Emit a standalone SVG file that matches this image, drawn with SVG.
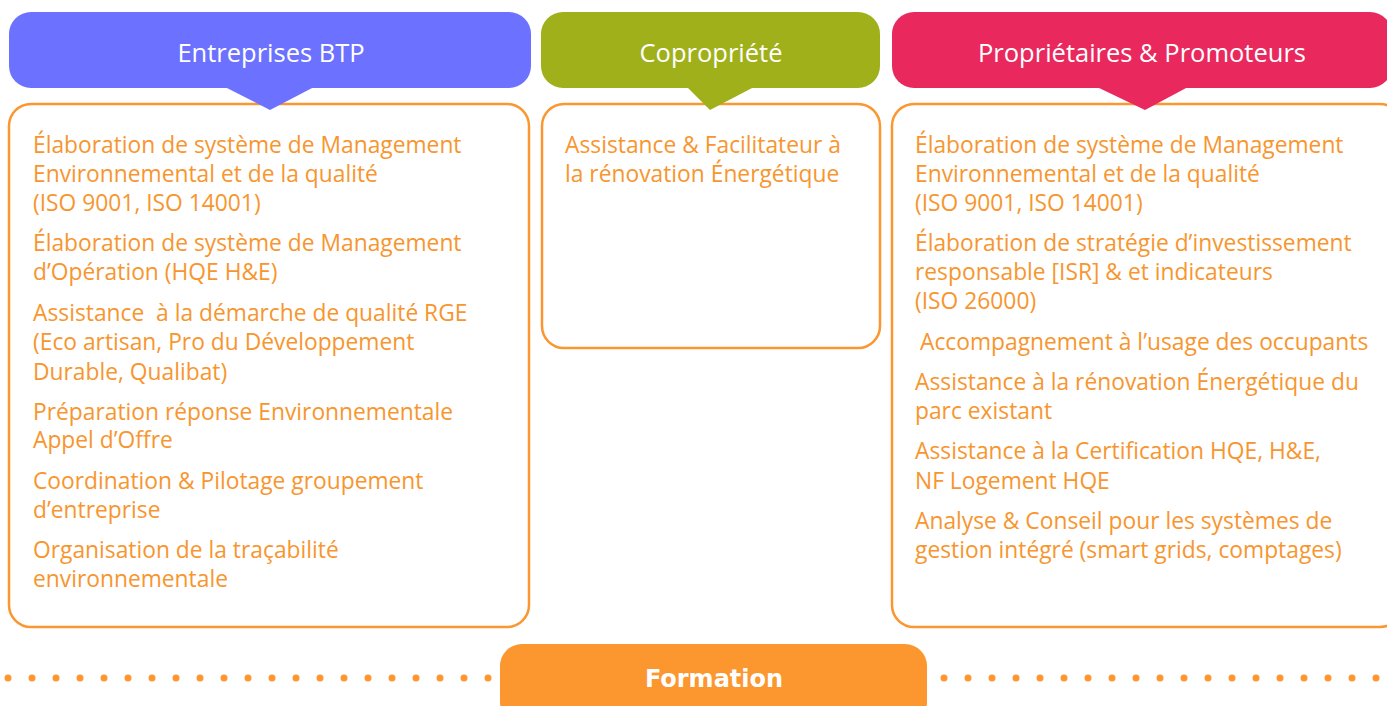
<svg xmlns="http://www.w3.org/2000/svg" width="1387" height="706" viewBox="0 0 1387 706">
<defs>
<style>
.hdr-txt{font-family:"Open Sans","DejaVu Sans",sans-serif;font-size:25.5px;fill:#ffffff;text-anchor:middle}
.body{fill:#ffffff;stroke:#FB9631;stroke-width:2.5}
.t{font-family:"Open Sans","DejaVu Sans",sans-serif;font-size:22.8px;fill:#F7962F}
.dot{fill:#FB9631}
.form-txt{font-family:"DejaVu Sans","Open Sans",sans-serif;font-size:24px;font-weight:bold;fill:#ffffff;text-anchor:middle}
</style>
</defs>
<rect width="1387" height="706" fill="#ffffff"/>

<g id="col-btp">
  <rect class="body" x="9" y="104" width="520" height="523" rx="22"/>
  <g id="hdr-btp">
    <rect x="9" y="12" width="522" height="76" rx="22" fill="#6C72FF"/>
    <polygon points="225,87 314,87 270,110" fill="#6C72FF"/>
    <text class="hdr-txt" x="271" y="62">Entreprises BTP</text>
  </g>
  <text class="t" x="33" y="153">Élaboration de système de Management</text>
  <text class="t" x="33" y="182">Environnemental et de la qualité</text>
  <text class="t" x="33" y="211">(ISO 9001, ISO 14001)</text>
  <text class="t" x="33" y="251">Élaboration de système de Management</text>
  <text class="t" x="33" y="280">d’Opération (HQE H&amp;E)</text>
  <text class="t" x="33" y="321" xml:space="preserve">Assistance  à la démarche de qualité RGE</text>
  <text class="t" x="33" y="350">(Eco artisan, Pro du Développement</text>
  <text class="t" x="33" y="380">Durable, Qualibat)</text>
  <text class="t" x="33" y="420">Préparation réponse Environnementale</text>
  <text class="t" x="33" y="448">Appel d’Offre</text>
  <text class="t" x="33" y="489">Coordination &amp; Pilotage groupement</text>
  <text class="t" x="33" y="518">d’entreprise</text>
  <text class="t" x="33" y="558">Organisation de la traçabilité</text>
  <text class="t" x="33" y="587">environnementale</text>
</g>

<g id="col-copro">
  <rect class="body" x="542" y="104" width="338" height="244" rx="22"/>
  <g id="hdr-copro">
    <rect x="541" y="12" width="339" height="76" rx="22" fill="#A0B01A"/>
    <polygon points="687,87 754,87 710,110" fill="#A0B01A"/>
    <text class="hdr-txt" x="711" y="62">Copropriété</text>
  </g>
  <text class="t" x="565" y="153">Assistance &amp; Facilitateur à</text>
  <text class="t" x="565" y="182">la rénovation Énergétique</text>
</g>

<g id="col-proprio">
  <rect class="body" x="892" y="104" width="510" height="523" rx="22"/>
  <g id="hdr-proprio">
    <rect x="892" y="12" width="500" height="76" rx="22" fill="#E9285E"/>
    <polygon points="1097,87 1188,87 1145,110" fill="#E9285E"/>
    <text class="hdr-txt" x="1142" y="62">Propriétaires &amp; Promoteurs</text>
  </g>
  <text class="t" x="915" y="153">Élaboration de système de Management</text>
  <text class="t" x="915" y="182">Environnemental et de la qualité</text>
  <text class="t" x="915" y="211">(ISO 9001, ISO 14001)</text>
  <text class="t" x="915" y="251">Élaboration de stratégie d’investissement</text>
  <text class="t" x="915" y="280">responsable [ISR] &amp; et indicateurs</text>
  <text class="t" x="915" y="309">(ISO 26000)</text>
  <text class="t" x="920" y="350">Accompagnement à l’usage des occupants</text>
  <text class="t" x="915" y="390">Assistance à la rénovation Énergétique du</text>
  <text class="t" x="915" y="419">parc existant</text>
  <text class="t" x="915" y="459">Assistance à la Certification HQE, H&amp;E,</text>
  <text class="t" x="915" y="489">NF Logement HQE</text>
  <text class="t" x="915" y="529">Analyse &amp; Conseil pour les systèmes de</text>
  <text class="t" x="915" y="558">gestion intégré (smart grids, comptages)</text>
</g>

<g id="connectors">
  <g id="dots-left">
    <circle class="dot" cx="8" cy="678" r="3.5"/><circle class="dot" cx="32" cy="678" r="3.5"/><circle class="dot" cx="56" cy="678" r="3.5"/><circle class="dot" cx="80" cy="678" r="3.5"/><circle class="dot" cx="104" cy="678" r="3.5"/><circle class="dot" cx="128" cy="678" r="3.5"/><circle class="dot" cx="152" cy="678" r="3.5"/><circle class="dot" cx="176" cy="678" r="3.5"/><circle class="dot" cx="200" cy="678" r="3.5"/><circle class="dot" cx="224" cy="678" r="3.5"/><circle class="dot" cx="248" cy="678" r="3.5"/><circle class="dot" cx="272" cy="678" r="3.5"/><circle class="dot" cx="296" cy="678" r="3.5"/><circle class="dot" cx="320" cy="678" r="3.5"/><circle class="dot" cx="344" cy="678" r="3.5"/><circle class="dot" cx="368" cy="678" r="3.5"/><circle class="dot" cx="392" cy="678" r="3.5"/><circle class="dot" cx="416" cy="678" r="3.5"/><circle class="dot" cx="440" cy="678" r="3.5"/><circle class="dot" cx="464" cy="678" r="3.5"/><circle class="dot" cx="488" cy="678" r="3.5"/>
  </g>
  <g id="dots-right">
    <circle class="dot" cx="944" cy="678" r="3.5"/><circle class="dot" cx="968" cy="678" r="3.5"/><circle class="dot" cx="992" cy="678" r="3.5"/><circle class="dot" cx="1016" cy="678" r="3.5"/><circle class="dot" cx="1040" cy="678" r="3.5"/><circle class="dot" cx="1064" cy="678" r="3.5"/><circle class="dot" cx="1088" cy="678" r="3.5"/><circle class="dot" cx="1112" cy="678" r="3.5"/><circle class="dot" cx="1136" cy="678" r="3.5"/><circle class="dot" cx="1160" cy="678" r="3.5"/><circle class="dot" cx="1184" cy="678" r="3.5"/><circle class="dot" cx="1208" cy="678" r="3.5"/><circle class="dot" cx="1232" cy="678" r="3.5"/><circle class="dot" cx="1256" cy="678" r="3.5"/><circle class="dot" cx="1280" cy="678" r="3.5"/><circle class="dot" cx="1304" cy="678" r="3.5"/><circle class="dot" cx="1328" cy="678" r="3.5"/><circle class="dot" cx="1352" cy="678" r="3.5"/><circle class="dot" cx="1376" cy="678" r="3.5"/>
  </g>
</g>

<g id="formation">
  <rect x="500" y="644" width="427" height="80" rx="22" fill="#FC962E"/>
  <text class="form-txt" x="714" y="687">Formation</text>
</g>
</svg>
